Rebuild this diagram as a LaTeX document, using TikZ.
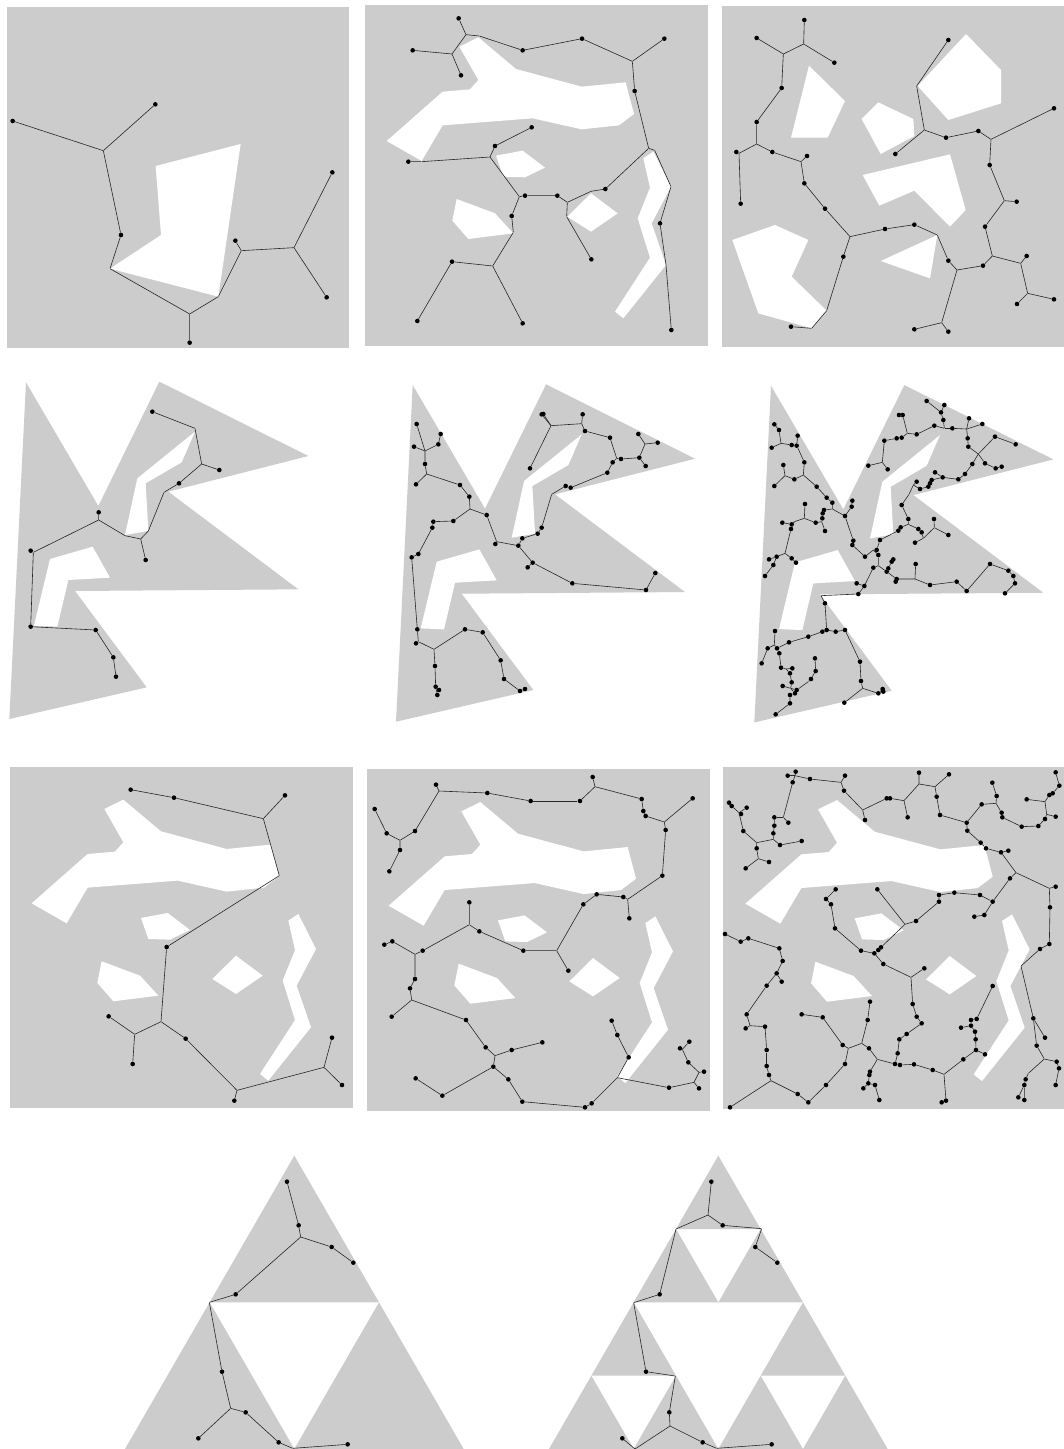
\documentclass[tikz,border=0pt]{standalone}
\definecolor{bg}{HTML}{CCCCCC}
\tikzset{
  dt/.style={circle,fill=black,inner sep=0pt,minimum size=4.6pt},
  jn/.style={circle,inner sep=0pt,minimum size=0pt},
  lnk/.style={draw=black!85,line width=0.6pt}
}
\newcommand\mktree[3]{%
  \foreach \n/\x/\y/\s in {#2}{\node[\s] (#1-\n) at (\x,\y) {};}
  \foreach \a/\b in {#3}{\draw[lnk] (#1-\a) -- (#1-\b);}
}
\newcommand\mapshapes{%
  \fill[bg] (14,14) rectangle (1043,1038);
  \fill[white] (298,140)--(355,112)--(468,207)--(665,260)--(797,247)--(822,342)--(777,376)--(665,388)--(518,355)--(248,376)--(185,483)--(80,423)--(248,275)--(330,268)--(355,240)--cycle;
  \fill[white] (408,467)--(488,452)--(555,503)--(495,532)--(430,530)--cycle;
  \fill[white] (290,597)--(405,640)--(460,700)--(325,717)--(277,662)--cycle;
  \fill[white] (693,580)--(773,640)--(693,695)--(622,650)--cycle;
  \fill[white] (850,475)--(880,455)--(933,560)--(875,670)--(918,795)--(790,955)--(765,935)--(870,773)--(833,655)--(870,563)--cycle;
}
\newcommand\kshapes{%
  \fill[bg] (78,22)--(295,393)--(478,20)--(925,243)--(505,350)--(895,643)--(225,648)--(440,937)--(28,1032)--cycle;
  \fill[white] (585,170)--(545,262)--(437,325)--(445,468)--(375,480)--(412,310)--cycle;
  \fill[white] (150,552)--(278,515)--(330,608)--(205,615)--(172,755)--(102,752)--cycle;
}
\newcommand\tri[3]{\fill[bg] (#1,#2)--({#1-#3/2},{#2+#3*0.866})--({#1+#3/2},{#2+#3*0.866})--cycle;}
\begin{document}
\begin{tikzpicture}[x=1pt,y=-1pt]
\useasboundingbox (0,0) rectangle (1064,1449);
\fill[white] (0,0) rectangle (1064,1449);
\clip (0,0) rectangle (1064,1449);

% ---------- Panel 1
\begin{scope}[shift={(0,0)},scale=1/3]
  \fill[bg] (20,22) rectangle (1048,1045);
  \fill[white] (467,498)--(722,432)--(655,890)--(330,806)--(483,705)--cycle;
  \mktree{A}{1/38/363/dt,2/310/452/jn,3/466/313/dt,4/363/705/dt,5/330/806/jn,6/569/942/jn,7/569/1028/dt,8/655/890/jn,9/724/752/jn,10/706/722/dt,11/882/743/jn,12/997/517/dt,13/980/892/dt}
  {1/2,3/2,2/4,4/5,5/6,6/7,6/8,8/9,9/10,9/11,11/12,11/13}
\end{scope}

% ---------- Panel 2
\begin{scope}[shift={(360,0)},scale=1/3]
  \mapshapes
  \mktree{B}{1/296/55/dt,2/318/104/jn,3/358/108/jn,4/276/162/jn,5/158/151/dt,6/303/226/dt,7/488/151/dt,8/666/116/dt,9/817/184/jn,10/913/116/dt,11/824/273/dt,12/866/445/jn,13/884/451/jn,14/933/560/jn,15/900/670/dt,16/918/795/jn,17/934/990/dt,18/736/567/dt,19/693/574/jn,20/622/607/jn,21/592/587/dt,22/495/587/dt,23/478/590/jn,24/390/471/jn,25/405/438/dt,26/515/382/dt,27/145/485/dt,36/185/485/jn,28/455/648/dt,29/460/697/jn,30/398/798/jn,31/276/785/dt,32/172/963/dt,33/488/970/dt,34/620/650/jn,35/694/778/dt}
  {1/2,2/3,2/4,4/5,4/6,3/7,7/8,8/9,9/10,9/11,11/12,12/13,13/14,14/15,15/16,16/17,12/18,18/19,19/20,20/21,21/22,22/23,23/24,24/25,25/26,24/36,36/27,23/28,28/29,29/30,30/31,31/32,30/33,20/34,34/35}
\end{scope}

% ---------- Panel 3
\begin{scope}[shift={(715,0)},scale=1/3]
  \fill[bg] (20,18) rectangle (1050,1040);
  \fill[white] (282,197)--(390,303)--(338,413)--(228,413)--cycle;
  \fill[white] (753,102)--(858,210)--(858,310)--(700,360)--(608,258)--cycle;
  \fill[white] (490,307)--(595,357)--(598,408)--(497,462)--(440,357)--cycle;
  \fill[white] (443,525)--(705,463)--(752,630)--(705,680)--(598,572)--(493,617)--cycle;
  \fill[white] (497,783)--(667,705)--(645,835)--cycle;
  \fill[white] (52,720)--(180,675)--(280,720)--(230,830)--(335,932)--(290,985)--(130,940)--cycle;
  \mktree{C}{1/268/60/dt,2/266/132/jn,3/125/114/dt,4/205/162/jn,5/358/188/dt,6/200/264/dt,7/125/366/dt,8/125/432/jn,9/64/456/dt,48/72/460/jn,10/77/611/dt,11/172/456/dt,12/258/485/jn,13/276/468/dt,14/268/550/dt,15/330/626/dt,16/405/710/jn,17/385/770/dt,18/335/932/jn,19/290/985/jn,20/228/980/dt,21/510/687/dt,22/598/674/dt,23/667/705/jn,24/700/782/dt,25/726/810/jn,26/680/968/jn,27/598/988/dt,28/700/995/dt,29/804/797/dt,30/832/768/jn,31/810/680/dt,32/868/602/jn,33/905/605/dt,34/824/495/dt,35/828/418/jn,36/1017/325/dt,37/790/393/dt,38/693/413/dt,39/628/390/jn,40/541/462/dt,41/605/258/jn,42/700/120/dt,43/917/790/jn,44/935/768/dt,45/938/880/jn,46/906/912/dt,47/1017/898/dt}
  {1/2,2/4,2/5,3/4,4/6,6/7,7/8,8/48,48/9,48/10,8/11,11/12,12/13,12/14,14/15,15/16,16/17,17/18,18/19,19/20,16/21,21/22,22/23,23/24,24/25,25/26,26/27,26/28,25/29,29/30,30/31,31/32,32/33,32/34,34/35,35/36,35/37,37/38,38/39,39/40,39/41,41/42,30/43,43/44,43/45,45/46,45/47}
\end{scope}

% ---------- Panel 4
\begin{scope}[shift={(0,375)},scale=1/3]
  \kshapes
  \mktree{D}{1/457/110/dt,2/585/160/jn,3/605/267/jn,4/658/285/dt,5/537/325/dt,6/492/352/jn,7/445/468/jn,8/422/492/jn,9/437/555/dt,10/375/482/jn,11/296/435/jn,12/296/412/dt,13/100/532/jn,14/92/527/dt,15/92/755/dt,16/287/765/dt,17/340/847/dt,18/348/905/dt}
  {1/2,2/3,3/4,3/5,5/6,6/7,7/8,8/9,8/10,10/11,11/12,11/13,13/14,13/15,15/16,16/17,17/18}
\end{scope}

% ---------- Panel 5
\begin{scope}[shift={(386.7,377.7)},scale=1/3]
  \kshapes
\end{scope}
\begin{scope}[shift={(390,375)},scale=1/3]
  \mktree{E}{1/80/147/dt,2/105/228/jn,3/72/215/dt,4/145/208/dt,5/152/177/dt,6/105/267/dt,7/110/297/jn,8/78/328/dt,9/210/330/dt,10/238/365/dt,11/240/402/jn,12/290/420/dt,13/190/438/dt,14/130/440/dt,15/127/458/dt,16/85/537/dt,17/65/547/dt,18/82/763/dt,19/85/800/jn,20/78/805/dt,21/132/823/jn,22/225/763/dt,23/278/772/dt,24/332/856/dt,25/342/912/dt,26/390/948/dt,27/405/942/dt,28/135/873/dt,29/137/935/dt,30/147/945/dt,31/142/960/dt,32/320/500/jn,33/316/507/dt,34/385/512/dt,35/397/490/dt,36/443/476/dt,37/455/458/dt,38/485/358/jn,39/527/333/dt,40/542/338/dt,41/652/293/dt,42/668/262/dt,43/680/250/jn,44/693/252/dt,45/748/248/dt,46/765/207/jn,47/745/177/dt,48/803/203/dt,49/767/273/dt,50/660/188/dt,51/585/168/dt,52/575/146/jn,53/578/118/dt,54/483/152/jn,55/455/118/dt,56/460/117/dt,57/420/280/dt,58/428/563/dt,59/413/577/dt,60/547/625/dt,61/768/645/dt,62/796/594/dt}
  {1/2,2/3,2/4,4/5,2/6,6/7,7/8,7/9,9/10,10/11,11/12,11/13,13/14,14/15,15/16,16/17,17/18,18/19,19/20,19/21,21/22,22/23,23/24,24/25,25/26,26/27,21/28,28/29,29/30,29/31,12/32,32/33,32/34,34/35,35/36,36/37,37/38,38/39,39/40,40/41,41/42,42/43,43/44,44/45,45/46,46/47,46/48,45/49,43/50,50/51,51/52,52/53,52/54,54/55,54/56,54/57,34/58,58/59,58/60,60/61,61/62}
\end{scope}

% ---------- Panel 6
\begin{scope}[shift={(745,378.4)},scale=1/3]
  \kshapes
\end{scope}
\begin{scope}[shift={(745,375)},scale=1/3]
  \mktree{F}{1/88/148/dt,2/102/165/dt,4/108/205/jn,5/80/218/dt,7/140/210/dt,8/155/212/dt,9/158/182/dt,10/160/222/jn,11/178/262/dt,12/175/300/jn,13/148/313/dt,14/120/302/jn,15/115/270/dt,16/88/333/dt,17/215/335/dt,18/245/368/dt,19/262/383/dt,20/262/402/jn,21/300/423/dt,23/322/377/dt,24/320/395/dt,25/237/405/dt,26/233/415/dt,27/232/430/dt,28/230/440/jn,29/212/443/dt,30/240/468/dt,31/180/387/dt,32/178/430/jn,33/148/440/jn,34/140/448/dt,35/138/462/dt,36/112/443/dt,37/120/535/jn,38/95/545/dt,39/72/553/dt,40/85/570/dt,41/60/603/dt,42/140/550/dt,43/153/563/dt,44/325/497/dt,45/322/510/dt,46/360/545/dt,47/385/525/jn,48/395/525/dt,49/405/495/dt,50/460/467/dt,51/467/457/dt,52/490/448/jn,53/490/432/dt,54/470/390/dt,55/492/358/jn,56/505/330/jn,57/515/320/dt,58/525/342/dt,59/550/335/dt,60/555/325/dt,61/560/315/dt,62/570/292/dt,63/593/307/dt,64/640/313/dt,65/660/297/dt,66/682/267/dt,67/700/237/jn,69/720/265/dt,70/752/280/dt,71/770/275/dt,72/750/185/dt,73/812/208/dt,76/670/215/dt,77/668/190/dt,78/665/162/jn,79/672/130/dt,80/712/147/dt,81/622/160/dt,83/598/160/jn,84/595/135/dt,85/588/112/dt,86/598/90/dt,87/545/78/dt,88/568/152/dt,89/515/178/dt,90/487/175/jn,91/470/188/dt,92/455/190/dt,93/440/193/jn,94/418/197/dt,95/412/262/jn,96/370/272/dt,97/428/283/dt,98/473/120/dt,99/462/120/dt,100/520/462/dt,101/530/472/dt,102/535/490/jn,103/510/503/dt,104/567/432/dt,105/568/458/jn,106/610/480/dt,107/400/540/dt,108/400/572/jn,109/425/590/dt,110/430/580/dt,111/440/560/dt,112/445/553/dt,113/455/612/dt,114/452/620/dt,115/510/612/jn,116/512/567/dt,117/555/630/dt,118/635/620/dt,119/665/648/dt,120/735/567/dt,121/790/587/dt,122/805/603/dt,123/810/625/dt,124/780/655/dt,125/385/578/dt,126/358/633/dt,127/335/625/dt,128/340/657/dt,129/228/662/jn,130/240/685/dt,131/245/765/dt,132/272/770/dt,134/300/765/dt,135/232/770/dt,136/190/785/dt,137/132/802/dt,139/96/820/dt,140/88/810/jn,141/90/768/dt,143/68/820/dt,144/50/865/dt,145/103/835/dt,146/108/878/dt,147/123/882/jn,148/142/880/dt,149/210/850/dt,150/212/888/dt,151/198/912/dt,152/190/920/jn,153/155/945/dt,154/150/955/dt,155/137/940/jn,156/113/933/dt,157/140/922/dt,158/135/895/dt,159/135/960/dt,160/135/985/dt,161/92/1018/dt,162/345/860/dt,163/348/918/dt,164/353/940/jn,165/400/955/dt,166/413/942/dt,167/415/950/dt,168/298/983/dt}
  {1/2,2/4,4/5,4/7,7/8,8/9,8/10,10/11,11/12,12/13,13/14,14/15,14/16,12/17,17/18,18/19,19/20,20/21,21/24,24/23,20/25,25/26,26/27,27/28,28/29,28/30,29/32,32/31,32/33,33/34,34/36,33/35,35/37,37/38,38/39,38/40,40/41,37/42,42/43,21/44,44/45,45/46,46/47,47/48,48/49,49/50,50/51,51/52,52/53,53/54,54/55,55/56,56/57,56/58,58/59,59/60,60/61,61/63,63/62,63/64,64/65,65/66,66/67,67/72,72/73,67/69,69/70,70/71,67/76,76/77,77/78,78/79,78/80,78/81,81/83,83/84,84/85,85/86,85/87,83/88,88/89,89/90,90/98,98/99,90/91,91/92,92/93,93/94,94/95,95/96,95/97,52/100,100/101,101/102,102/103,102/105,105/104,105/106,47/107,107/108,108/109,109/113,113/115,115/116,115/117,117/118,118/119,119/120,120/121,121/122,122/123,123/124,109/110,110/111,111/112,113/114,108/125,125/126,126/127,126/128,128/129,129/130,130/131,131/132,132/134,134/162,162/163,163/164,164/165,165/166,165/167,164/168,131/135,135/136,136/137,137/139,139/140,140/141,140/143,143/144,139/145,145/146,146/147,147/148,147/158,158/157,157/155,155/156,155/153,153/152,152/151,151/150,150/149,155/154,154/159,159/160,160/161}
\end{scope}

% ---------- Panel 7
\begin{scope}[shift={(5,762.3)},scale=1/3]
  \mapshapes
\end{scope}
\begin{scope}[shift={(0,760)},scale=1/3]
  \mktree{G}{1/392/89/dt,2/522/113/dt,3/790/176/jn,4/855/106/dt,5/838/347/jn,6/500/561/dt,7/483/785/jn,8/404/823/jn,9/326/769/dt,10/398/912/dt,11/557/836/dt,12/711/991/jn,13/703/1022/dt,14/972/922/jn,15/996/833/dt,16/1026/975/dt}
  {1/2,2/3,3/4,3/5,5/6,6/7,7/8,8/9,8/10,7/11,11/12,12/13,12/14,14/15,14/16}
\end{scope}

% ---------- Panel 8
\begin{scope}[shift={(362,764.7)},scale=1/3]
  \mapshapes
\end{scope}
\begin{scope}[shift={(360,760)},scale=1/3]
  \mktree{H}{1/44/147/dt,2/80/220/dt,3/120/241/jn,4/120/270/dt,5/88/334/dt,6/165/213/dt,7/237/93/jn,8/228/74/dt,9/382/99/dt,10/512/123/dt,11/660/123/dt,12/705/80/jn,13/698/51/dt,14/845/117/dt,15/850/153/dt,16/857/168/dt,17/913/186/jn,18/998/115/dt,19/917/210/dt,20/907/347/dt,21/803/418/jn,22/790/411/dt,23/808/475/dt,24/710/403/dt,25/670/433/dt,26/590/572/jn,27/625/632/dt,28/490/572/dt,29/358/514/dt,30/328/494/jn,31/328/427/dt,32/188/572/dt,33/165/583/jn,34/97/544/dt,35/73/554/dt,36/165/657/dt,37/150/685/dt,38/155/720/jn,39/95/770/dt,40/318/780/dt,41/377/862/dt,42/405/887/jn,43/455/870/dt,44/547/847/dt,45/400/920/dt,46/247/1007/dt,47/167/955/dt,48/445/958/dt,49/487/1025/dt,50/675/1042/dt,51/695/1030/dt,52/772/953/jn,53/806/892/dt,54/772/825/dt,55/755/782/dt,57/927/983/dt,58/1002/967/jn,59/1017/985/dt,60/1017/937/jn,61/1032/935/dt,62/985/907/dt,63/967/868/jn,64/960/865/dt,65/988/845/dt}
  {1/2,2/3,3/4,4/5,3/6,6/7,7/8,7/9,9/10,10/11,11/12,12/13,12/14,14/15,15/16,16/17,17/18,17/19,19/20,20/21,21/22,21/23,22/24,24/25,25/26,26/27,26/28,28/29,29/30,30/31,30/32,32/33,33/34,34/35,33/36,36/37,37/38,38/39,38/40,40/41,41/42,42/43,43/44,42/45,45/46,46/47,45/48,48/49,49/50,50/51,51/52,52/53,53/54,54/55,52/57,57/58,58/59,58/60,60/61,60/62,62/63,63/64,63/65}
\end{scope}

% ---------- Panel 9
\begin{scope}[shift={(718.7,762.7)},scale=1/3]
  \mapshapes
\end{scope}
\begin{scope}[shift={(715,760)},scale=1/3]
  \mktree{K}{1/42/128/dt,2/50/138/dt,3/72/158/jn,4/78/162/dt,5/95/143/dt,6/85/213/dt,7/125/248/jn,8/125/265/dt,9/130/296/jn,10/92/325/dt,11/162/306/dt,12/175/238/jn,13/175/220/dt,14/178/197/dt,15/178/172/dt,16/205/172/jn,17/220/188/dt,18/233/67/dt,19/240/47/jn,20/218/47/dt,21/242/35/dt,22/285/57/dt,23/378/67/jn,24/390/47/dt,25/387/92/dt,26/443/150/jn,27/450/180/dt,28/515/115/dt,29/525/115/dt,30/567/122/jn,31/578/172/dt,32/612/72/jn,33/612/38/dt,34/660/80/jn,35/702/43/dt,36/665/110/dt,37/675/165/dt,38/755/188/dt,39/800/133/dt,40/843/130/jn,41/845/108/dt,42/832/68/dt,43/860/158/dt,44/862/172/dt,45/920/200/dt,46/970/198/dt,47/990/177/dt,48/995/163/jn,49/1022/170/dt,50/990/125/jn,51/935/118/dt,52/1003/105/dt,53/1013/100/dt,54/1022/37/dt,55/1033/77/dt,56/757/212/dt,57/797/248/dt,58/813/265/dt,59/858/277/dt,60/880/272/dt,61/903/338/jn,62/885/355/dt,63/833/425/dt,64/808/465/dt,65/778/470/dt,66/795/405/dt,67/718/398/dt,68/672/405/dt,69/672/425/dt,70/603/483/dt,71/570/493/jn,73/487/388/dt,74/498/562/dt,75/490/570/dt,76/478/580/dt,77/438/572/dt,78/360/505/dt,79/348/433/dt,80/333/417/dt,81/362/388/dt,82/1022/380/dt,169/1003/385/jn,83/1005/442/dt,84/1003/552/dt,85/975/567/dt,86/918/618/jn,87/955/775/dt,88/990/833/dt,89/965/857/dt,91/988/897/jn,92/1025/905/dt,93/1032/925/dt,94/1022/975/dt,95/940/940/jn,96/932/958/dt,97/928/975/dt,98/910/1012/dt,99/928/1020/dt,100/505/612/dt,101/588/652/jn,102/628/625/dt,103/593/732/dt,104/605/770/dt,105/620/790/dt,106/575/822/dt,107/553/838/dt,108/548/880/dt,109/540/912/dt,110/487/898/jn,111/462/865/dt,112/440/850/jn,113/400/865/jn,114/383/855/dt,115/323/772/dt,116/260/763/dt,118/458/780/dt,119/465/725/dt,120/390/912/dt,121/333/975/dt,122/280/1027/dt,124/248/1002/dt,125/168/962/jn,126/162/945/dt,127/155/918/dt,128/155/870/dt,129/150/800/dt,130/105/797/jn,131/95/763/dt,133/92/805/dt,134/155/677/dt,135/185/640/dt,136/200/665/dt,138/203/603/dt,139/193/565/dt,140/100/535/dt,141/77/545/dt,142/30/522/dt,143/45/1042/dt,144/555/915/dt,145/597/913/dt,146/653/930/dt,147/687/943/jn,148/745/898/dt,149/783/870/dt,150/810/883/dt,151/782/838/dt,152/780/815/dt,154/768/797/dt,155/768/780/dt,156/738/803/dt,157/785/777/dt,158/833/678/dt,159/693/1022/dt,160/680/1027/dt,161/465/935/dt,162/463/945/dt,163/460/970/dt,164/445/985/dt,165/480/975/dt,166/493/1020/dt,167/195/255/dt,168/260/243/dt}
  {1/2,2/3,3/5,3/4,3/6,6/7,7/8,8/9,9/10,9/11,7/12,12/167,167/168,12/13,13/14,14/15,15/16,16/17,16/18,18/19,19/20,19/21,19/22,22/23,23/24,23/25,25/26,26/27,26/28,28/29,29/30,30/31,30/32,32/33,32/34,34/35,34/36,36/37,37/38,38/39,39/40,40/41,41/42,40/43,43/44,44/45,45/46,46/47,47/48,48/49,48/50,50/51,50/52,52/53,53/55,55/54,38/56,56/57,57/58,58/59,59/60,59/61,61/169,169/82,169/83,83/84,84/85,85/86,86/87,87/88,87/89,89/91,91/92,92/93,93/94,91/95,95/96,96/97,97/98,97/99,61/62,62/63,63/64,64/65,63/66,66/67,67/68,68/69,69/70,70/71,71/73,71/74,74/75,75/76,76/77,77/78,78/79,79/80,80/81,76/100,100/101,101/102,101/103,103/104,104/105,105/106,106/107,107/108,108/109,109/110,110/111,111/112,112/118,118/119,112/113,113/114,114/115,115/116,113/120,120/121,121/122,122/124,124/125,125/126,126/127,127/128,128/129,129/130,130/131,131/134,134/135,135/136,135/138,138/139,139/140,140/141,141/142,130/133,125/143,109/144,144/145,145/146,146/147,147/148,148/149,149/150,149/151,151/152,152/154,154/155,155/157,157/158,154/156,147/159,159/160,110/161,161/162,162/163,163/164,163/165,165/166}
\end{scope}

% ---------- Panel 10 (Sierpinski level 1)
\begin{scope}[shift={(110,1145)},scale=1/3]
  \tri{553}{32}{508}\tri{299}{472}{508}\tri{807}{472}{508}
  \mktree{S}{1/531/110/dt,2/566/241/dt,3/572/276/jn,4/665/306/dt,5/730/353/dt,6/377/448/dt,7/298/472/jn,8/336/680/dt,9/362/790/jn,10/265/880/dt,11/407/802/dt,12/506/892/dt,13/548/910/jn,14/713/898/dt}
  {1/2,2/3,3/4,4/5,3/6,6/7,7/8,8/9,9/10,9/11,11/12,12/13,13/14}
\end{scope}

% ---------- Panel 11 (Sierpinski level 2)
\begin{scope}[shift={(535,1145)},scale=1/3]
  \tri{550}{32}{254}\tri{423}{252}{254}\tri{677}{252}{254}
  \tri{296}{472}{254}\tri{169}{692}{254}\tri{423}{692}{254}
  \tri{804}{472}{254}\tri{677}{692}{254}\tri{931}{692}{254}
  \mktree{U}{1/529/110/dt,2/519/210/jn,3/563/241/dt,4/680/251/jn,5/661/306/dt,6/727/353/dt,7/423/252/jn,8/374/448/dt,9/296/473/jn,10/333/680/dt,11/421/693/jn,12/403/802/dt,13/405/843/jn,14/503/892/dt,15/545/910/jn,16/710/898/dt,17/300/912/jn,18/262/880/dt}
  {1/2,2/3,3/4,4/5,5/6,2/7,7/8,8/9,9/10,10/11,11/12,12/13,13/14,14/15,15/16,13/17,17/18}
\end{scope}
\end{tikzpicture}
\end{document}
